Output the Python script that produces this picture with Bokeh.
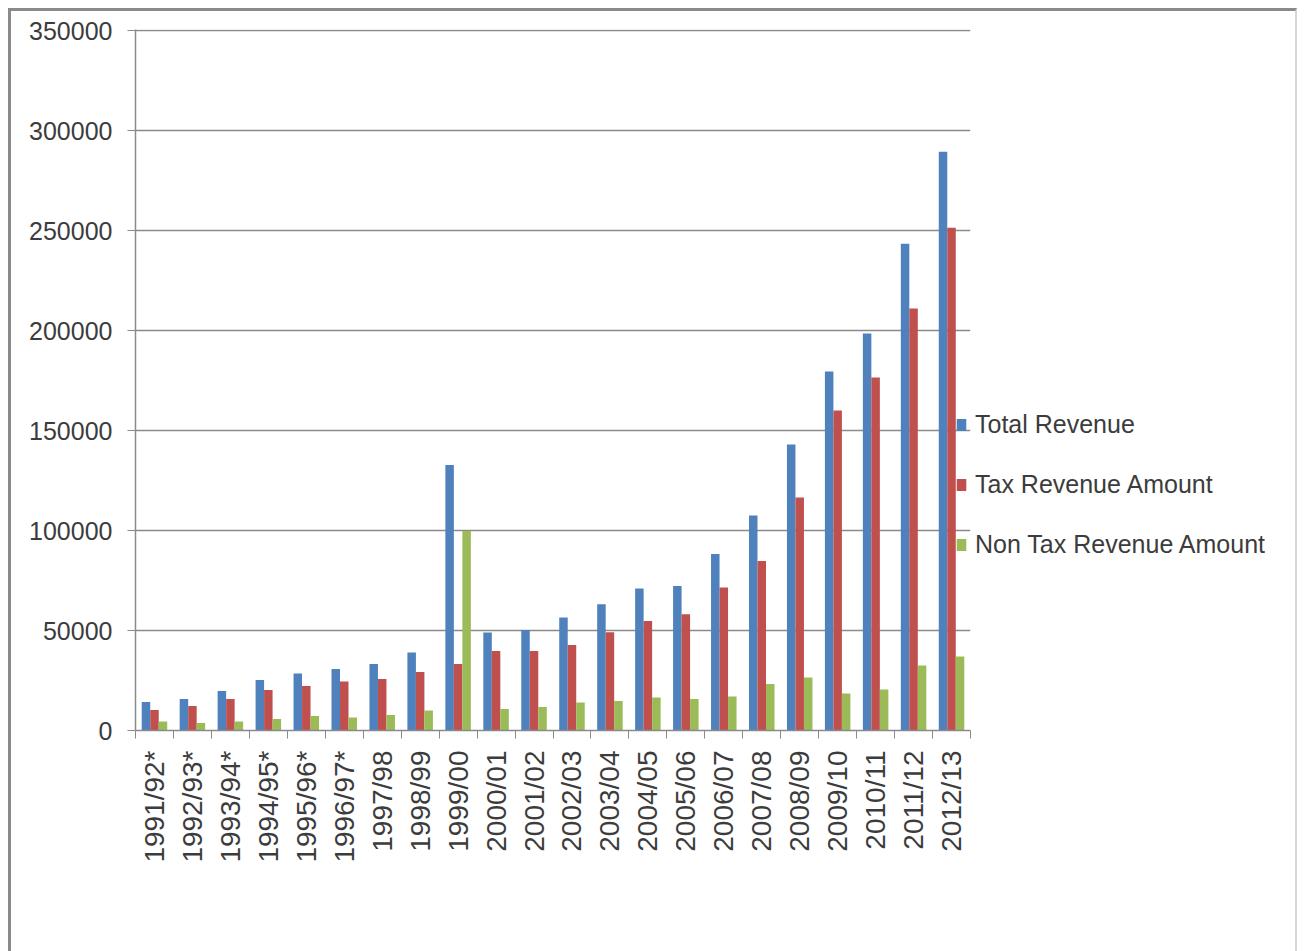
import numpy as np
from bokeh.plotting import figure
from bokeh.models import (ColumnDataSource, Range1d, FixedTicker, BasicTickFormatter,
                          Legend, LegendItem)
from bokeh.transform import dodge
from bokeh.embed import file_html
from bokeh.resources import INLINE

# Fiscal years and revenue amounts
years = ["1991/92*", "1992/93*", "1993/94*", "1994/95*", "1995/96*", "1996/97*",
         "1997/98", "1998/99", "1999/00", "2000/01", "2001/02", "2002/03",
         "2003/04", "2004/05", "2005/06", "2006/07", "2007/08", "2008/09",
         "2009/10", "2010/11", "2011/12", "2012/13"]

total_revenue = [14200, 15800, 19800, 25200, 28500, 30800, 33200, 39000, 132800,
                 49000, 50300, 56500, 63200, 71000, 72300, 88300, 107500, 143000,
                 179500, 198500, 243500, 289500]

tax_revenue = [10200, 12300, 15700, 20300, 22200, 24500, 25800, 29200, 33200,
               39800, 39800, 42700, 49200, 54800, 58200, 71500, 84800, 116500,
               160000, 176500, 211000, 251500]

non_tax_revenue = [4500, 3700, 4500, 5700, 7300, 6500, 7800, 10000, 99800,
                   10700, 11700, 14000, 14800, 16500, 15700, 17000, 23200, 26500,
                   18500, 20500, 32500, 37000]

series_names = ["Total Revenue", "Tax Revenue Amount", "Non Tax Revenue Amount"]
series_colors = ["#4F81BD", "#C0504D", "#9BBB59"]
y_ticks = [0, 50000, 100000, 150000, 200000, 250000, 300000, 350000]

n = len(years)
idx = np.arange(n)
source = ColumnDataSource(dict(x=idx, year=years, total=total_revenue,
                               tax=tax_revenue, nontax=non_tax_revenue))

TEXT = "#3c3c3c"
GRID = "#8a8a8a"
FONT = "Liberation Sans"

# a little headroom above the top tick so its grid line stays visible
p = figure(frame_width=835, frame_height=701, output_backend="svg",
           toolbar_location=None,
           x_range=Range1d(-0.5, n - 0.5), y_range=Range1d(0, 350600),
           min_border_left=124, min_border_top=18, min_border_right=300,
           min_border_bottom=225, background_fill_color="white",
           border_fill_color="white", outline_line_color=None)

p.styles = {"margin-left": "8px", "margin-top": "8px",
            "max-width": "1289px", "overflow": "hidden",
            "border-left": "3px solid #8a8a8a", "border-top": "3px solid #8a8a8a",
            "border-right": "2px solid #d6d6d6"}

bw = 0.224
items = []
for col, off, name, color in zip(["total", "tax", "nontax"], [-bw, 0, bw],
                                 series_names, series_colors):
    r = p.vbar(x=dodge("x", off), top=col, width=bw, source=source,
               fill_color=color, line_color=None)
    items.append(LegendItem(label=name, renderers=[r]))

# x axis: labels at group centres, small ticks at group boundaries
xa = p.xaxis[0]
xa.ticker = FixedTicker(ticks=list(range(n)), minor_ticks=[i - 0.5 for i in range(n + 1)])
xa.major_label_overrides = {i: years[i] for i in range(n)}
xa.major_label_orientation = np.pi / 2
xa.major_tick_out = 0
xa.major_tick_in = 0
xa.minor_tick_out = 8
xa.minor_tick_in = 0
xa.minor_tick_line_color = GRID
xa.axis_line_color = GRID
xa.axis_line_width = 1.5
xa.major_label_text_font = FONT
xa.major_label_text_font_size = "28px"
xa.major_label_text_color = TEXT
xa.major_label_standoff = 12

ya = p.yaxis[0]
ya.ticker = FixedTicker(ticks=y_ticks)
ya.formatter = BasicTickFormatter(use_scientific=False)
ya.major_tick_out = 8
ya.major_tick_in = 0
ya.major_tick_line_color = GRID
ya.minor_tick_line_color = None
ya.axis_line_color = GRID
ya.axis_line_width = 1.5
ya.major_label_text_font = FONT
ya.major_label_text_font_size = "25px"
ya.major_label_text_color = TEXT
ya.major_label_standoff = 15

p.xgrid.grid_line_color = None
p.ygrid.grid_line_color = GRID
p.ygrid.grid_line_width = 1.5

lg = Legend(items=items, location=(-15, 171), orientation="vertical",
            border_line_color=None, background_fill_alpha=0, padding=0, margin=0,
            spacing=30, glyph_width=12, glyph_height=15, label_height=30,
            label_standoff=8, label_text_font=FONT, label_text_font_size="25px",
            label_text_color=TEXT)
p.add_layout(lg, "right")

open("out.html", "w").write(file_html(p, INLINE))
